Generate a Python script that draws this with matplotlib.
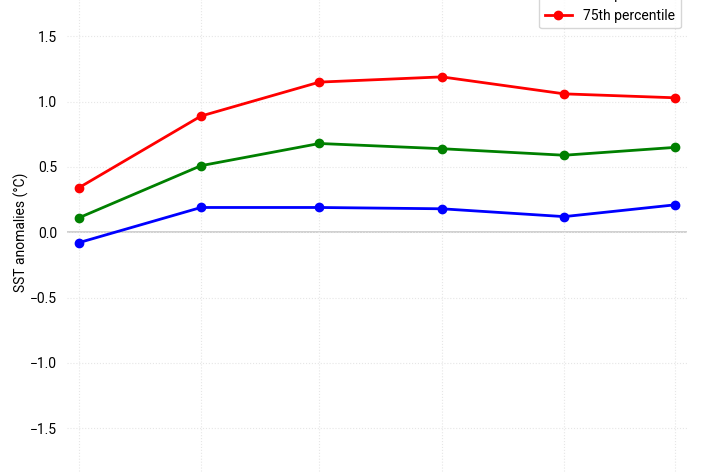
import numpy as np
import pandas as pd
import matplotlib
matplotlib.use('Agg')
import matplotlib.pyplot as plt

plt.rcParams['font.family'] = ['Roboto', 'DejaVu Sans']
plt.rcParams['font.size'] = 10

# monthly dates (Oct - Mar)
months = pd.to_datetime(['2018-10-01', '2018-11-01', '2018-12-01',
                         '2019-01-01', '2019-02-01', '2019-03-01'])

p25 = [-0.08, 0.19, 0.19, 0.18, 0.12, 0.21]
p50 = [0.11, 0.51, 0.68, 0.64, 0.59, 0.65]
p75 = [0.34, 0.89, 1.15, 1.19, 1.06, 1.03]

yticks = [-1.5, -1.0, -0.5, 0.0, 0.5, 1.0, 1.5]

fig = plt.figure(figsize=(7.1, 4.73), dpi=100)
# axes extends past the figure edges (cropped view)
ax = fig.add_axes([0.0939, -0.0433, 0.8732, 1.1044])

ax.axhline(0, color='#c8c8c8', lw=1.2, zorder=1)
ax.plot(months, p25, '-o', color='blue', lw=2, ms=6, label='25th percentile', zorder=3)
ax.plot(months, p50, '-o', color='green', lw=2, ms=6, label='50th percentile', zorder=3)
ax.plot(months, p75, '-o', color='red', lw=2, ms=6, label='75th percentile', zorder=3)

ax.set_ylim(-2, 2)
ax.set_yticks(yticks)
ax.set_xticks(months)
ax.margins(x=0.02)
ax.set_ylabel('SST anomalies (°C)', labelpad=1)

ax.grid(True, linestyle=':', color='#e6e6e6', lw=0.8)
for s in ax.spines.values():
    s.set_visible(False)
ax.tick_params(length=0, pad=7)
# x labels fall outside the cropped view
ax.tick_params(axis='x', labelbottom=False)

ax.legend(loc='lower right', bbox_to_anchor=(681 / 710, 1 - 28.3 / 473),
          bbox_transform=fig.transFigure, borderaxespad=0)

fig.savefig('out.png', dpi=100)
